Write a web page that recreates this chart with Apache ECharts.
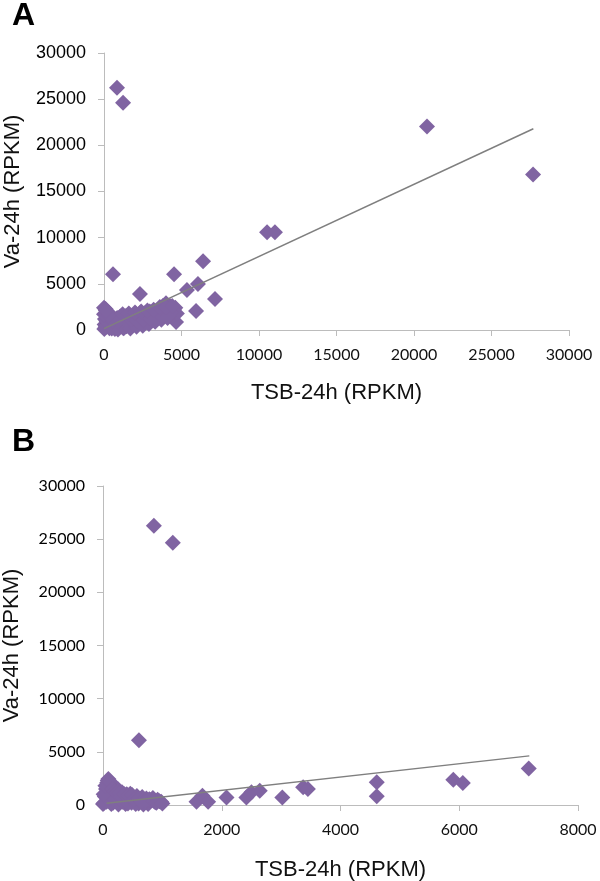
<!DOCTYPE html>
<html>
<head>
<meta charset="utf-8">
<script src="https://cdn.jsdelivr.net/npm/echarts@6/dist/echarts.min.js"></script>
<style>html,body{margin:0;padding:0;background:#fff}#c{width:600px;height:881px}</style>
</head>
<body>
<div id="c"></div>
<script>
// Panel A: TSB-24h vs Va-24h (RPKM), all genes
const pointsA = [
  [840,26240],[1230,24620],[20840,22030],[27680,16850],[10520,10580],[11030,10580],
  [580,6050],[6390,7450],[4520,6050],[6060,4970],[5350,4320],[7160,3350],[5940,2050],
  [4650,860],[2320,3890],[4260,2590],[4500,2200],[4400,1500],[4600,2400],[4700,1800],
  [20,100],[40,600],[60,1200],[80,1800],[100,2270],[150,400],[200,900],[250,1500],[300,1900],
  [350,200],[400,700],[450,1100],[500,1300],[550,300],[600,800],[650,1200],[700,100],[750,500],
  [800,1000],[850,1300],[900,250],[950,700],[1000,1100],[1050,1450],[1100,400],[1150,850],
  [1200,1300],[1250,200],[1300,600],[1350,1000],[1400,1500],[1450,400],[1500,900],[1550,1300],
  [1600,1700],[1650,500],[1700,1000],[1750,1400],[1800,600],[1850,1100],[1900,1600],[1950,800],
  [2000,1300],[2050,1800],[2100,700],[2150,1200],[2200,1600],[2250,900],[2300,1400],[2350,1900],
  [2400,1000],[2450,1500],[2500,800],[2550,1300],[2600,1800],[2650,1000],[2700,1500],[2750,900],
  [2800,1300],[2850,1800],[2900,1100],[2950,2000],[3000,1500],[3100,1200],[3200,1800],[3300,1400],
  [3400,2100],[3500,1600],[3600,2300],[3700,1800],[3800,2600],[3900,2000],[4000,2900],[4100,1600],
  [4200,2300],[4300,1900],
  [100,300],[500,150],[900,50],[1300,250],[1700,150],[2100,350],[2500,450],[2900,650],[3300,900],
  [3700,1100],[4100,1300],
  [150,1000],[550,950],[950,1000],[1350,1200],[1750,1100],[2150,1000],[2550,1050],[2950,1250],
  [3350,1300],[3750,1450],[4150,1500],
  [0,1700],[300,1600],[1200,1700],[1600,1800],[2000,1900],[2400,2000],[2800,2100],[3200,2200],
  [3600,2500],[4000,2400],[4400,2600],[0,2400],[120,2100]
];
const trendA = [[0,150],[27700,21800]];

// Panel B: genes with TSB-24h below 8000 RPKM
const pointsB = [
  [857,26260],[1176,24670],[605,6100],
  [1575,310],[1675,870],[1770,310],[2080,700],[2415,700],[2500,1190],[2640,1350],[3020,700],
  [3370,1660],[3450,1500],[4610,2130],[4610,820],[5900,2370],[6060,2060],[7170,3440],
  [20,200],[30,800],[50,1500],[70,2100],[90,2450],[110,1900],[130,1300],[150,600],[170,200],
  [190,1700],[210,1100],[230,400],[250,1500],[270,900],[300,300],[320,1200],[350,700],[380,100],
  [400,1000],[430,500],[460,1050],[480,200],[510,700],[540,400],[570,850],[600,150],[630,500],
  [660,750],[700,300],[730,600],[760,100],[800,450],[840,650],[880,250],[920,500],[950,350],
  [60,300],[100,700],[140,100],[200,500],[260,50],[330,300],[420,150],[550,100],[680,50],
  [0,100],[10,1000],[40,1800],[80,2300],[120,2200],[160,1500],[200,1300],[240,1200],[280,1100],
  [310,800],[360,1000],[420,900],[490,950],[520,500],[600,600],[650,300],[720,400],[780,550],
  [850,400],[900,200],[980,300],[1000,150]
];
const trendB = [[60,160],[7180,4620]];

const xTicksA = [0,30000,5000];
const xTicksB = [0,8000,2000];
const yTicks = [0,30000,5000];
const xName = 'TSB-24h (RPKM)';
const yName = 'Va-24h (RPKM)';

const PURPLE = '#8064A2';
const AX = '#bcbcbc';
const chart = echarts.init(document.getElementById('c'), null, {renderer:'canvas'});
const plain = v => String(v);

function xAxis(idx, t, font){
  return {
    type:'value', gridIndex: idx, min:t[0], max:t[1], interval:t[2],
    name: xName, nameLocation:'middle', nameGap: idx===0 ? 52 : 54,
    nameTextStyle:{fontFamily:'Liberation Sans', fontSize:22, color:'#111'},
    axisLine:{lineStyle:{color:AX, width:1}},
    axisTick:{show:true, inside:false, length:6, lineStyle:{color:AX}},
    axisLabel:{fontFamily:font, fontSize:16, color:'#111', margin:17, formatter:plain},
    splitLine:{show:false}
  };
}
function yAxis(idx, t, font, size){
  return {
    type:'value', gridIndex: idx, min:t[0], max:t[1], interval:t[2],
    name: yName, nameLocation:'middle', nameGap: 80,
    nameTextStyle:{fontFamily:'Liberation Sans', fontSize:22, color:'#111'},
    axisLine:{show:true, lineStyle:{color:AX, width:1}},
    axisTick:{show:true, inside:false, length:6, lineStyle:{color:AX}},
    axisLabel:{fontFamily:font, fontSize:size, color:'#000', margin:18, formatter:plain},
    splitLine:{show:false}
  };
}

chart.setOption({
  animation:false,
  title:[
    {text:'A', left:12, top:0, padding:0, textStyle:{fontFamily:'Liberation Sans', fontWeight:'bold', fontSize:32, color:'#000'}},
    {text:'B', left:12, top:426, padding:0, textStyle:{fontFamily:'Liberation Sans', fontWeight:'bold', fontSize:32, color:'#000'}}
  ],
  grid:[
    {left:104, top:53, width:465, height:277, containLabel:false, outerBoundsMode:'none'},
    {left:103, top:486, width:475, height:319, containLabel:false, outerBoundsMode:'none'}
  ],
  xAxis:[ xAxis(0, xTicksA, 'Lato'), xAxis(1, xTicksB, 'Lato') ],
  yAxis:[ yAxis(0, yTicks, 'Liberation Sans', 18), yAxis(1, yTicks, 'Lato', 16) ],
  series:[
    {type:'scatter', xAxisIndex:0, yAxisIndex:0, data:pointsA, symbol:'diamond', symbolSize:16, itemStyle:{color:PURPLE, opacity:1}, z:2},
    {type:'line', xAxisIndex:0, yAxisIndex:0, data:trendA, symbol:'none', lineStyle:{color:'#7f7f7f', width:1.5}, z:3},
    {type:'scatter', xAxisIndex:1, yAxisIndex:1, data:pointsB, symbol:'diamond', symbolSize:16, itemStyle:{color:PURPLE, opacity:1}, z:2},
    {type:'line', xAxisIndex:1, yAxisIndex:1, data:trendB, symbol:'none', lineStyle:{color:'#7f7f7f', width:1.5}, z:3}
  ]
});
</script>
</body>
</html>
